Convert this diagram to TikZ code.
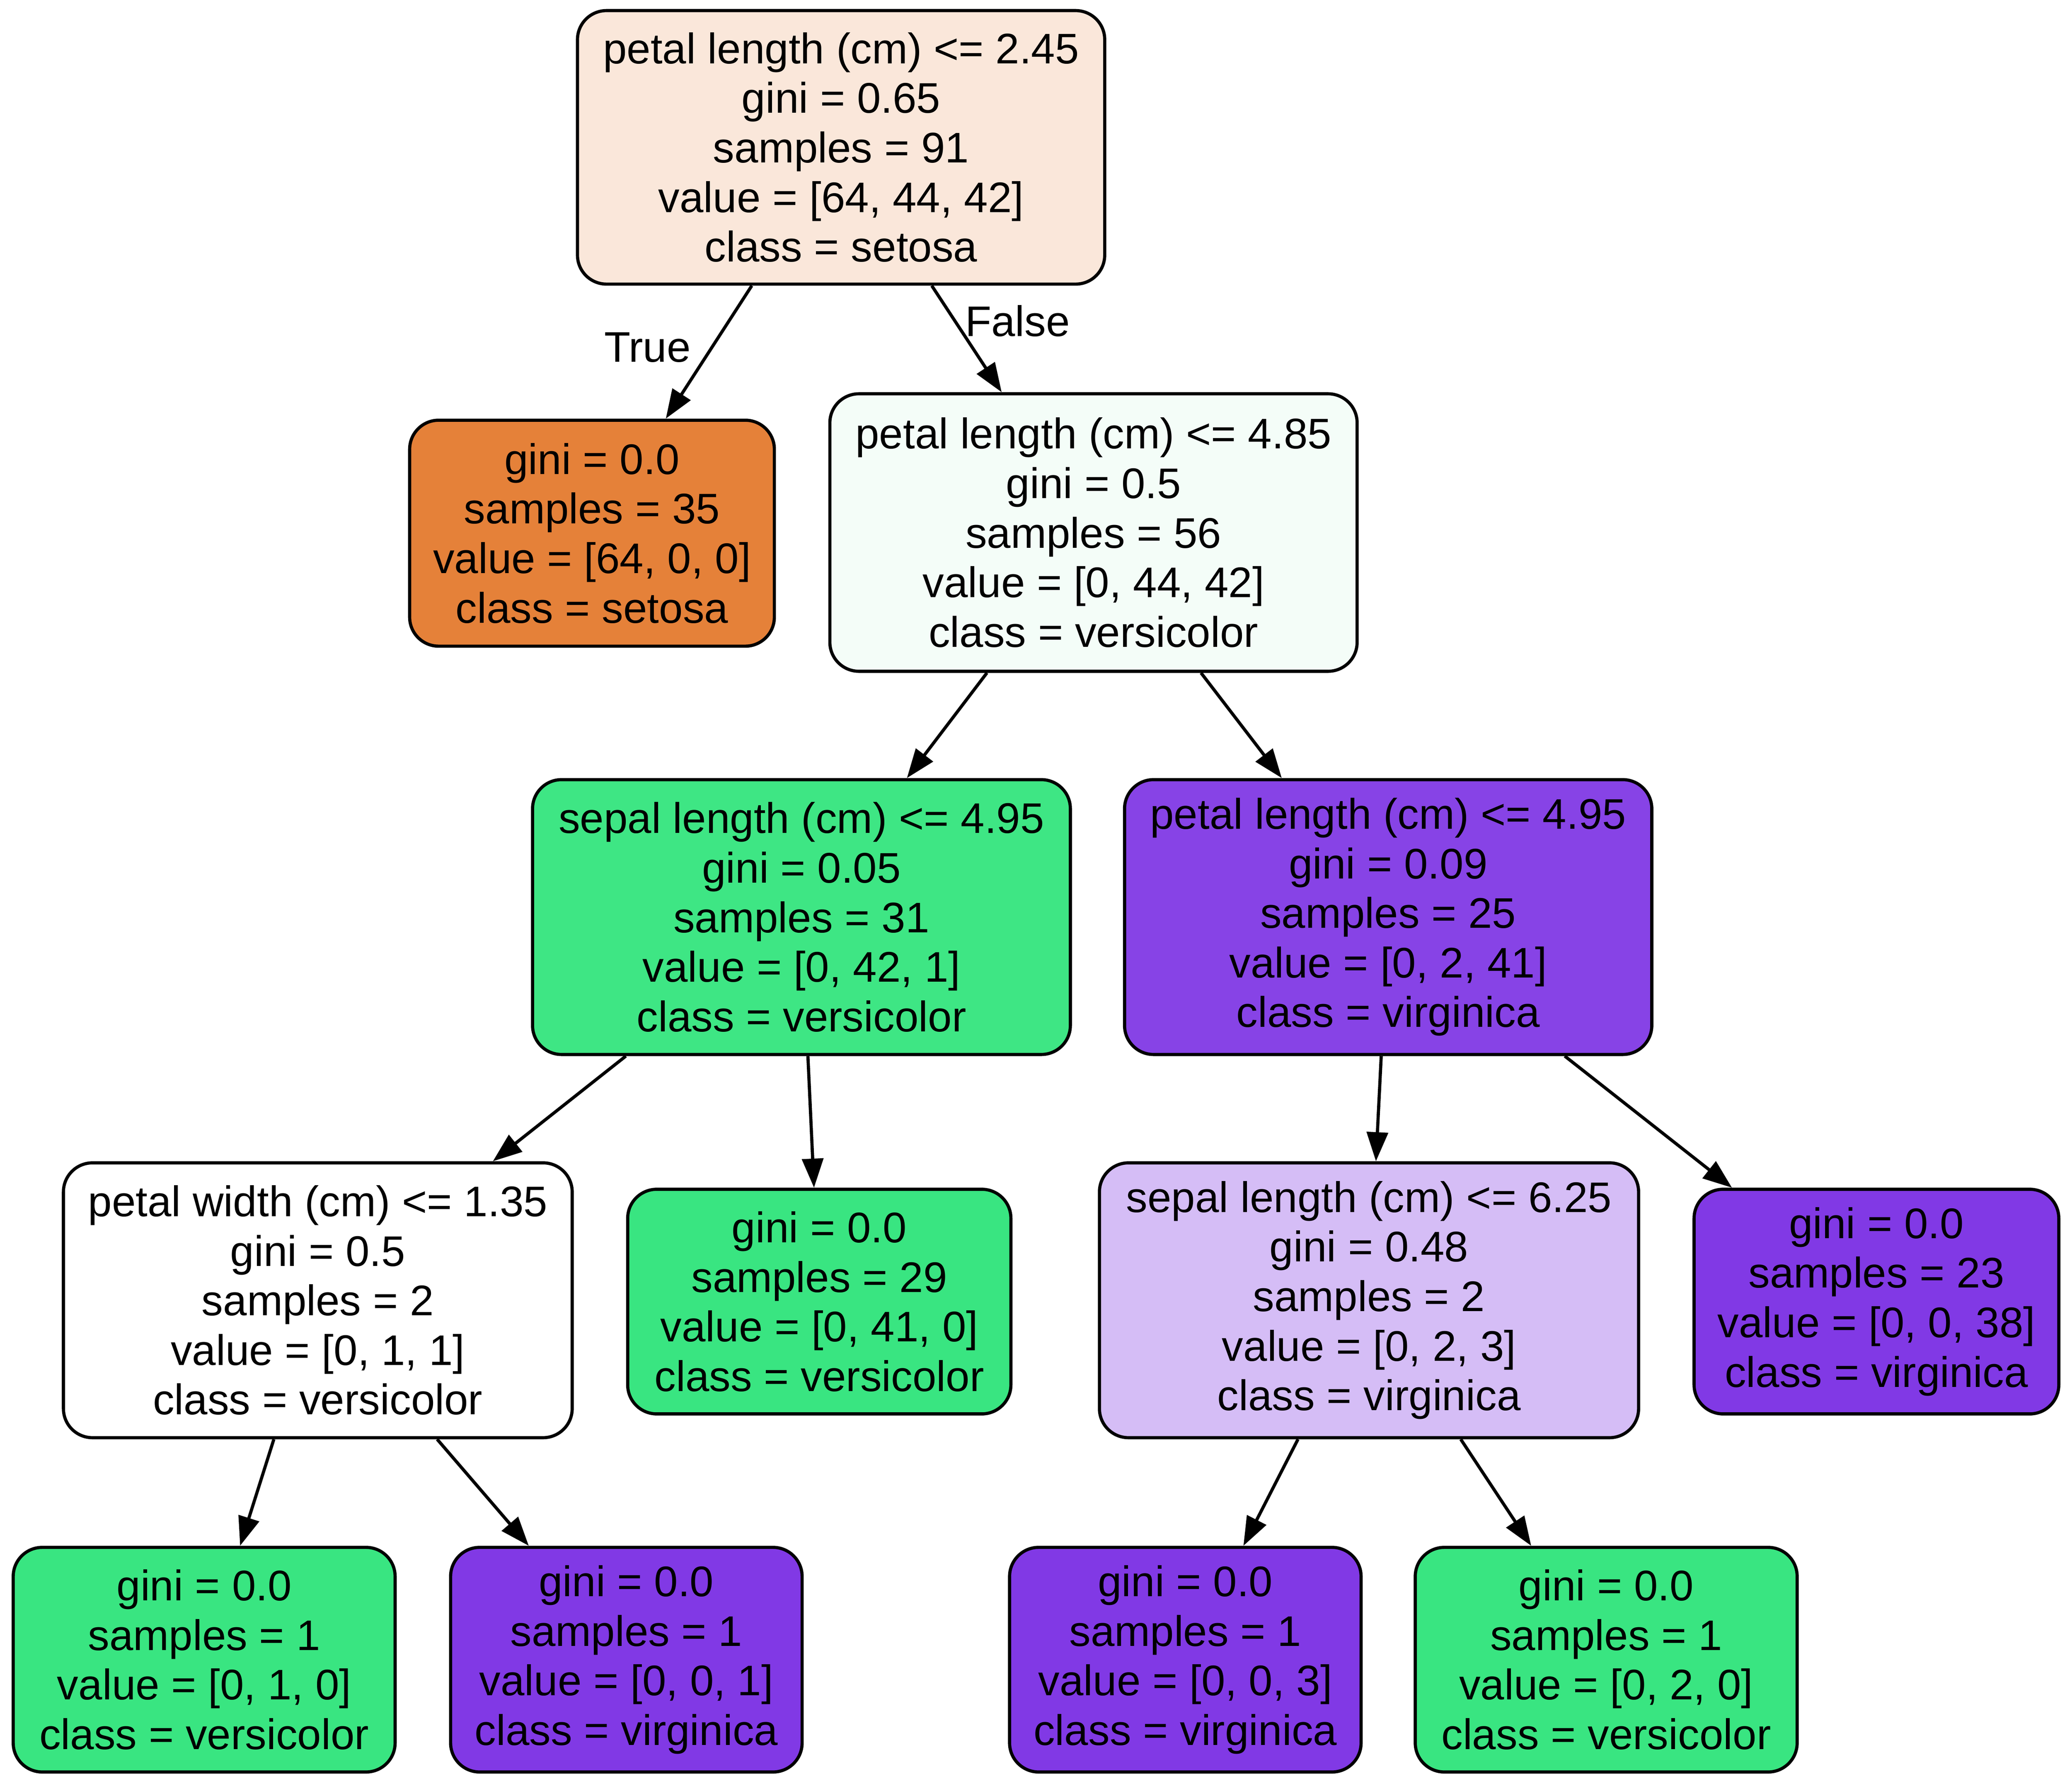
\documentclass[tikz,border=0pt]{standalone}
\usepackage{fontspec}
\setmainfont{Liberation Sans}
\usetikzlibrary{arrows.meta}
\definecolor{cRoot}{HTML}{FAE7DA}
\definecolor{cSet}{HTML}{E58139}
\definecolor{cN2}{HTML}{F4FDF8}
\definecolor{cVer}{HTML}{39E581}
\definecolor{cN3}{HTML}{3EE684}
\definecolor{cVir}{HTML}{8139E5}
\definecolor{cN4}{HTML}{8743E6}
\definecolor{cN7}{HTML}{D5BDF6}
\tikzset{
  tn/.style={draw=black, line width=1.2pt, rounded corners=11pt, align=center,
    inner sep=0pt, font=\fontsize{16.2pt}{18.75pt}\selectfont},
  edge/.style={draw=black, line width=1.2pt, -{Triangle[length=11pt,width=8pt]}},
  elab/.style={font=\fontsize{16.2pt}{18.75pt}\selectfont, inner sep=0pt}
}
\begin{document}
\begin{tikzpicture}[x=0.5pt,y=-0.5pt]
\useasboundingbox (0,0) rectangle (1568,1351.5);
\fill[white] (0,0) rectangle (1568,1351.5);
\node[tn, fill=cRoot, minimum width=199.5pt, minimum height=103.5pt] (n0) at (636.5,111.5)
  {petal length (cm) <= 2.45\\gini = 0.65\\samples = 91\\value = [64, 44, 42]\\class = setosa};
\node[tn, fill=cSet, minimum width=138pt, minimum height=85.5pt] (n1) at (448,403.5)
  {gini = 0.0\\samples = 35\\value = [64, 0, 0]\\class = setosa};
\node[tn, fill=cN2, minimum width=199.5pt, minimum height=105pt] (n2) at (827.5,403)
  {petal length (cm) <= 4.85\\gini = 0.5\\samples = 56\\value = [0, 44, 42]\\class = versicolor};
\node[tn, fill=cN3, minimum width=203.5pt, minimum height=104pt] (n3) at (606.5,694)
  {sepal length (cm) <= 4.95\\gini = 0.05\\samples = 31\\value = [0, 42, 1]\\class = versicolor};
\node[tn, fill=cN4, minimum width=199.5pt, minimum height=104pt] (n4) at (1050.5,694)
  {petal length (cm) <= 4.95\\gini = 0.09\\samples = 25\\value = [0, 2, 41]\\class = virginica};
\node[tn, fill=white, minimum width=192.5pt, minimum height=104pt] (n5) at (240.5,984)
  {petal width (cm) <= 1.35\\gini = 0.5\\samples = 2\\value = [0, 1, 1]\\class = versicolor};
\node[tn, fill=cVer, minimum width=145pt, minimum height=85pt] (n6) at (620,985)
  {gini = 0.0\\samples = 29\\value = [0, 41, 0]\\class = versicolor};
\node[tn, fill=cN7, minimum width=204pt, minimum height=104pt] (n7) at (1036,984)
  {sepal length (cm) <= 6.25\\gini = 0.48\\samples = 2\\value = [0, 2, 3]\\class = virginica};
\node[tn, fill=cVir, minimum width=138pt, minimum height=85pt] (n8) at (1420,985)
  {gini = 0.0\\samples = 23\\value = [0, 0, 38]\\class = virginica};
\node[tn, fill=cVer, minimum width=144.5pt, minimum height=85pt] (n9) at (154.5,1256)
  {gini = 0.0\\samples = 1\\value = [0, 1, 0]\\class = versicolor};
\node[tn, fill=cVir, minimum width=133pt, minimum height=85pt] (n10) at (474,1256)
  {gini = 0.0\\samples = 1\\value = [0, 0, 1]\\class = virginica};
\node[tn, fill=cVir, minimum width=133pt, minimum height=85pt] (n11) at (897,1256)
  {gini = 0.0\\samples = 1\\value = [0, 0, 3]\\class = virginica};
\node[tn, fill=cVer, minimum width=144.5pt, minimum height=85pt] (n12) at (1215.5,1256)
  {gini = 0.0\\samples = 1\\value = [0, 2, 0]\\class = versicolor};
\draw[edge] (n0) -- (n1);
\draw[edge] (n0) -- (n2);
\draw[edge] (n2) -- (n3);
\draw[edge] (n2) -- (n4);
\draw[edge] (n3) -- (n5);
\draw[edge] (n3) -- (n6);
\draw[edge] (n4) -- (n7);
\draw[edge] (n4) -- (n8);
\draw[edge] (n5) -- (n9);
\draw[edge] (n5) -- (n10);
\draw[edge] (n7) -- (n11);
\draw[edge] (n7) -- (n12);
\node[elab] (lt) at (490,263) {True};
\node[elab] (lf) at (770,243) {False};
\end{tikzpicture}
\end{document}
